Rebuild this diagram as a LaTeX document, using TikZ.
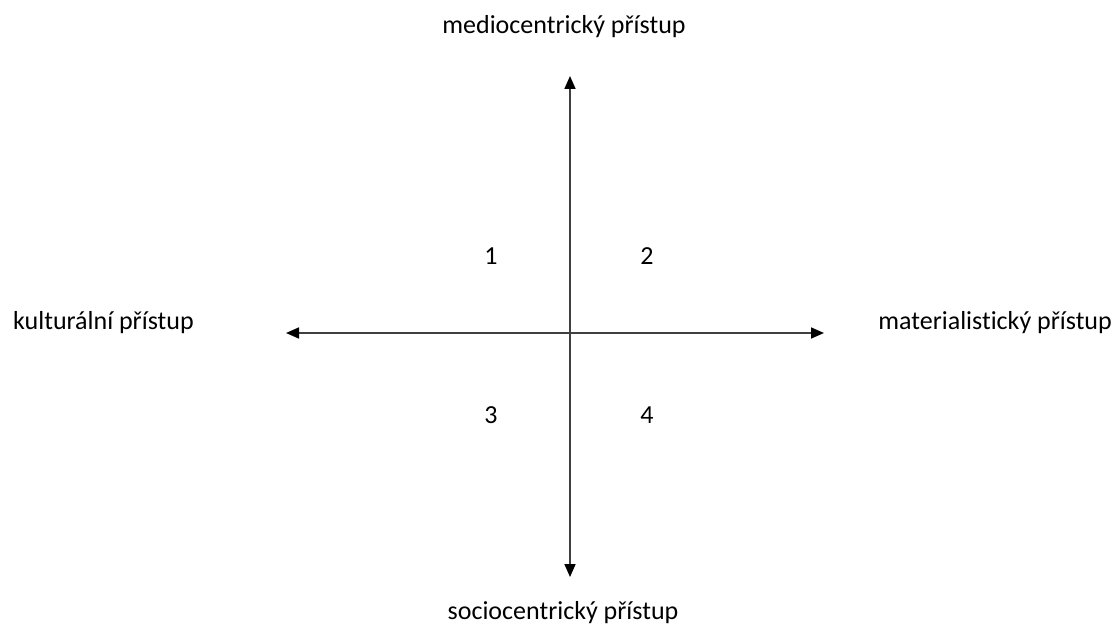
\documentclass[tikz,border=0pt]{standalone}
\usepackage{fontspec}
\setmainfont{Carlito}[Ligatures=NoCommon]
\usetikzlibrary{arrows.meta}
\begin{document}
\begin{tikzpicture}[x=1pt,y=-1pt,
  lbl/.style={inner sep=0pt,font=\fontsize{26}{30}\selectfont},
  axis/.style={line width=1.7pt,color=black!75,{Triangle[length=13pt,width=11pt,color=black]}-{Triangle[length=13pt,width=11pt,color=black]}}]
\useasboundingbox (0,0) rectangle (1115,628);
\coordinate (T) at (570,76);
\coordinate (B) at (570,577);
\coordinate (L) at (286,333);
\coordinate (R) at (824,333);
\draw[axis] (B) -- (T);
\draw[axis] (L) -- (R);
\node[lbl] (top) at (564,27) {mediocentrický přístup};
\node[lbl] (bot) at (563,613) {sociocentrický přístup};
\node[lbl,anchor=west] (left) at (13,323) {kulturální přístup};
\node[lbl,anchor=east] (right) at (1112,323) {materialistický přístup};
\node[lbl] (q1) at (491,256) {1};
\node[lbl] (q2) at (647,256) {2};
\node[lbl] (q3) at (491,415) {3};
\node[lbl] (q4) at (647,415) {4};
\end{tikzpicture}
\end{document}
